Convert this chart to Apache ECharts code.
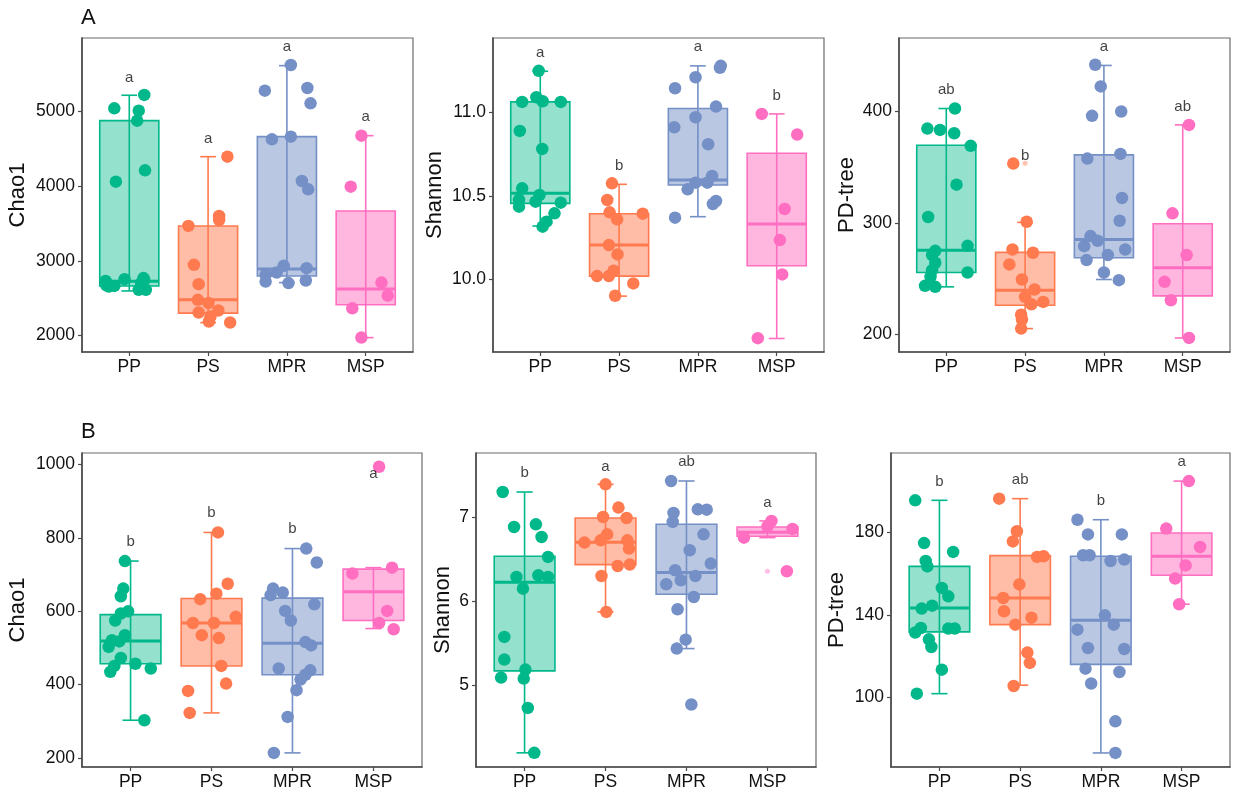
<!DOCTYPE html>
<html>
<head>
<meta charset="utf-8">
<script src="https://cdn.jsdelivr.net/npm/echarts@6.0.0/dist/echarts.min.js"></script>
<style>
html, body { margin: 0; background: #fff; }
#chart { width: 1240px; height: 795px; }
</style>
</head>
<body>
<div id="chart"></div>
<script>
var groups = ['PP', 'PS', 'MPR', 'MSP'];
var colors = ['#00B88A', '#FF7A4F', '#7490C6', '#FF6EC0'];
var fills = ['rgba(0,184,138,0.42)', 'rgba(255,122,79,0.5)', 'rgba(116,144,198,0.5)', 'rgba(255,110,192,0.5)'];
var font = 'Liberation Sans, Arial, sans-serif';

// box stats per group: [lower whisker, Q1, median, Q3, upper whisker]
// points per group: [jitter offset from group centre, value]

// ---- A / Chao1 ----
var chaoA_box = [[2595, 2662, 2725, 4879, 5220], [2170, 2298, 2476, 3467, 4396], [2707, 2795, 2890, 4665, 5617], [1969, 2409, 2620, 3668, 4678]];
var chaoA_PP = [[-0.19, 5045], [0.19, 5224], [0.12, 5013], [0.10, 4879], [-0.17, 4061], [0.20, 4213], [-0.30, 2730], [-0.26, 2654], [-0.06, 2753], [0.18, 2767], [0.12, 2610], [0.21, 2610], [-0.19, 2662], [0.15, 2700], [-0.29, 2670], [0.19, 2740]];
var chaoA_PS = [[0.245, 4396], [0.14, 3601], [0.14, 3547], [-0.25, 3467], [-0.18, 2945], [-0.12, 2686], [-0.13, 2476], [0.005, 2432], [0.13, 2333], [-0.12, 2306], [0.03, 2252], [0.01, 2185], [0.28, 2172]];
var chaoA_MPR = [[0.05, 5626], [-0.28, 5282], [0.26, 5317], [0.30, 5112], [-0.19, 4629], [0.05, 4665], [0.19, 4070], [0.27, 3958], [-0.04, 2932], [0.25, 2901], [-0.27, 2811], [-0.13, 2842], [-0.27, 2721], [0.02, 2700], [0.24, 2735]];
var chaoA_MSP = [[-0.055, 4678], [-0.19, 3994], [0.2, 2707], [0.28, 2532], [-0.17, 2362], [-0.055, 1969]];
var chaoA_letters = ['a', 'a', 'a', 'a'];
var chaoA_letterY = [5460, 4638, 5863, 4924];
var chaoA_ticks = [2000, 3000, 4000, 5000];

// ---- A / Shannon ----
var shanA_box = [[10.32, 10.456, 10.516, 11.064, 11.248], [9.9, 10.02, 10.206, 10.394, 10.57], [10.376, 10.566, 10.596, 11.024, 11.28], [9.646, 10.082, 10.332, 10.756, 10.992]];
var shanA_PP = [[-0.02, 11.25], [-0.23, 11.064], [-0.05, 11.092], [0.03, 11.068], [0.26, 11.064], [-0.26, 10.89], [0.025, 10.782], [-0.23, 10.546], [-0.01, 10.506], [-0.27, 10.476], [-0.06, 10.466], [-0.27, 10.436], [0.26, 10.46], [0.18, 10.396], [0.08, 10.346], [0.03, 10.316]];
var shanA_PS = [[-0.09, 10.576], [-0.15, 10.476], [-0.12, 10.402], [-0.025, 10.36], [0.30, 10.394], [-0.13, 10.206], [-0.02, 10.15], [-0.28, 10.02], [-0.13, 10.02], [-0.07, 10.052], [0.18, 9.976], [-0.05, 9.902]];
var shanA_MPR = [[0.29, 11.28], [0.28, 11.268], [-0.03, 11.212], [-0.29, 11.146], [0.23, 11.036], [-0.03, 10.972], [-0.30, 10.912], [0.13, 10.81], [0.18, 10.62], [0.12, 10.58], [-0.03, 10.58], [-0.13, 10.54], [0.23, 10.47], [0.19, 10.452], [-0.29, 10.37]];
var shanA_MSP = [[-0.19, 10.992], [0.26, 10.868], [0.10, 10.422], [0.04, 10.236], [0.07, 10.03], [-0.24, 9.648]];
var shanA_letters = ['a', 'b', 'a', 'b'];
var shanA_letterY = [11.36, 10.682, 11.392, 11.102];
var shanA_ticks = [10.0, 10.5, 11.0];

// ---- A / PD-tree ----
var pdA_box = [[242.8, 255.7, 275.7, 369.8, 402.7], [205.4, 226.3, 239.8, 273.7, 300.6], [249.4, 268.9, 285.3, 361.1, 441.3], [197, 234.7, 259.9, 299.4, 388]];
var pdA_PP = [[0.11, 402.7], [-0.24, 384.7], [-0.08, 383.5], [0.10, 380.5], [0.31, 369.2], [0.13, 334.4], [-0.23, 305.4], [0.27, 279.6], [-0.14, 275.1], [-0.18, 271.3], [-0.14, 264.4], [0.27, 255.7], [-0.18, 257.8], [-0.20, 251.8], [-0.27, 243.7], [-0.14, 242.8]];
var pdA_PS = [[-0.15, 353.3], [0.02, 301.2], [-0.16, 276.3], [0.10, 273.4], [-0.20, 262.9], [-0.04, 249.4], [0.12, 240.4], [0, 233.8], [0.23, 229.3], [0.08, 227.2], [-0.05, 217.9], [-0.04, 213.5], [-0.05, 205.4]];
var pdA_MPR = [[-0.11, 441.9], [-0.04, 422.5], [-0.15, 396.1], [0.22, 400], [-0.21, 357.8], [0.21, 362], [0.23, 322.5], [0.20, 302.1], [-0.17, 288.3], [-0.08, 284.1], [-0.25, 279.3], [0.27, 276.3], [0.05, 271.3], [-0.22, 266.8], [0, 255.7], [0.19, 248.8]];
var pdA_MSP = [[0.08, 388], [-0.13, 308.7], [0.05, 271.3], [-0.23, 247.3], [-0.15, 230.8], [0.08, 197]];
var pdA_outliers = [[1, 353.6]];
var pdA_letters = ['ab', 'b', 'a', 'ab'];
var pdA_letterY = [419.5, 360, 457.8, 404.5];
var pdA_ticks = [200, 300, 400];

// ---- B / Chao1 ----
var chaoB_box = [[303, 457, 519, 591, 737], [323, 451, 568, 635, 815], [214, 427, 513, 636, 771], [553, 575, 653, 715, 719]];
var chaoB_PP = [[-0.07, 737], [-0.09, 662], [-0.12, 641], [-0.03, 600], [-0.12, 594], [-0.19, 575], [-0.07, 535], [-0.23, 521], [-0.14, 518], [-0.27, 503], [-0.12, 473], [0.06, 457], [-0.20, 451], [-0.25, 435], [0.25, 444], [0.17, 303]];
var chaoB_PS = [[0.08, 815], [0.20, 675], [-0.14, 633], [0.06, 648], [0.30, 585], [-0.23, 568], [0.03, 568], [-0.12, 535], [0.09, 527], [0.12, 451], [0.18, 403], [-0.29, 383], [-0.27, 323]];
var chaoB_MPR = [[0.17, 771], [0.30, 733], [-0.24, 662], [-0.12, 651], [-0.27, 644], [0.27, 619], [-0.09, 601], [-0.02, 575], [0.16, 516], [0.23, 507], [-0.17, 444], [0.22, 439], [0.16, 427], [0.10, 414], [0.05, 385], [-0.06, 312], [-0.23, 214]];
var chaoB_MSP = [[0.07, 994], [-0.26, 703], [0.23, 719], [0.17, 601], [0.07, 568], [0.25, 551]];
var chaoB_letters = ['b', 'b', 'b', 'a'];
var chaoB_letterY = [789, 868, 825, 975];
var chaoB_ticks = [200, 400, 600, 800, 1000];

// ---- B / Shannon ----
var shanB_box = [[4.202, 5.174, 6.225, 6.534, 7.296], [5.874, 6.435, 6.70, 6.988, 7.387], [5.439, 6.083, 6.34, 6.913, 7.427], [6.755, 6.771, 6.82, 6.881, 6.953]];
var shanB_PP = [[-0.27, 7.296], [-0.13, 6.881], [0.14, 6.913], [0.21, 6.763], [0.29, 6.526], [-0.10, 6.289], [0.17, 6.308], [0.29, 6.289], [-0.02, 6.15], [-0.25, 5.577], [-0.25, 5.308], [-0.29, 5.095], [0.01, 5.19], [-0.01, 5.083], [0.04, 4.735], [0.12, 4.202]];
var shanB_PS = [[0, 7.387], [0.16, 7.111], [-0.03, 7.0], [0.26, 6.988], [0.02, 6.794], [-0.26, 6.696], [-0.06, 6.723], [0.27, 6.723], [0.29, 6.625], [0.15, 6.419], [0.30, 6.435], [-0.05, 6.30], [0.01, 5.874]];
var shanB_MPR = [[-0.19, 7.427], [-0.16, 7.047], [-0.17, 6.941], [0.14, 7.091], [0.25, 7.087], [0.21, 6.794], [0.04, 6.605], [0.30, 6.447], [-0.14, 6.368], [-0.07, 6.249], [0.11, 6.30], [-0.25, 6.202], [0.09, 6.051], [-0.11, 5.905], [-0.01, 5.545], [-0.12, 5.439], [0.06, 4.775]];
var shanB_MSP = [[0.05, 6.953], [0, 6.889], [0.31, 6.858], [-0.29, 6.755], [0.24, 6.356]];
var shanB_outliers = [[3, 6.356]];
var shanB_letters = ['b', 'a', 'ab', 'a'];
var shanB_letterY = [7.522, 7.60, 7.652, 7.166];
var shanB_ticks = [5, 6, 7];

// ---- B / PD-tree ----
var pdB_box = [[101.9, 131.8, 143.4, 163.5, 195.5], [106.0, 135.3, 148.2, 168.7, 196.3], [73.2, 116.1, 137.4, 168.4, 186.1], [145.2, 159.2, 168.4, 179.7, 204.8]];
var pdB_PP = [[-0.30, 195.5], [-0.19, 174.8], [0.17, 170.5], [-0.17, 166.1], [-0.15, 163.5], [0.03, 153.1], [0.11, 149.0], [-0.09, 144.5], [-0.22, 143.1], [-0.23, 133.7], [-0.30, 131.5], [0.11, 133.4], [0.19, 133.4], [-0.13, 128.2], [-0.10, 124.5], [0.03, 113.5], [-0.28, 101.9]];
var pdB_PS = [[-0.26, 196.3], [-0.04, 180.5], [-0.09, 175.6], [0.21, 168.1], [0.29, 168.4], [-0.01, 154.8], [-0.21, 148.2], [-0.20, 141.8], [0.14, 138.7], [-0.06, 135.3], [0.09, 121.8], [0.12, 116.8], [-0.08, 105.6]];
var pdB_MPR = [[-0.29, 186.1], [-0.16, 179.0], [0.26, 179.0], [-0.22, 168.9], [-0.14, 168.9], [0.12, 166.1], [0.29, 166.8], [0.05, 139.8], [-0.29, 132.9], [0.16, 135.3], [-0.16, 124.0], [0.29, 123.5], [-0.19, 114.0], [0.23, 112.4], [-0.12, 106.8], [0.18, 88.5], [0.18, 73.2]];
var pdB_MSP = [[0.09, 204.8], [-0.19, 181.8], [0.23, 172.9], [0.05, 164.0], [-0.08, 157.6], [-0.03, 145.2]];
var pdB_letters = ['b', 'ab', 'b', 'a'];
var pdB_letterY = [204.4, 205.2, 195.2, 213.9];
var pdB_ticks = [100, 140, 180];

// panel layout
var panels = [
    { name: 'Chao1', box: chaoA_box, pts: [chaoA_PP, chaoA_PS, chaoA_MPR, chaoA_MSP], out: [], letters: chaoA_letters, letterY: chaoA_letterY, ticks: chaoA_ticks, dec: 0, yMin: 1776, yMax: 5988, grid: { left: 82, top: 38, width: 331, height: 314 }, nameGap: 53 },
    { name: 'Shannon', box: shanA_box, pts: [shanA_PP, shanA_PS, shanA_MPR, shanA_MSP], out: [], letters: shanA_letters, letterY: shanA_letterY, ticks: shanA_ticks, dec: 1, yMin: 9.565, yMax: 11.447, grid: { left: 493, top: 38, width: 331, height: 314 }, nameGap: 47 },
    { name: 'PD-tree', box: pdA_box, pts: [pdA_PP, pdA_PS, pdA_MPR, pdA_MSP], out: pdA_outliers, letters: pdA_letters, letterY: pdA_letterY, ticks: pdA_ticks, dec: 0, yMin: 184.4, yMax: 465.9, grid: { left: 899, top: 38, width: 331, height: 314 }, nameGap: 41 },
    { name: 'Chao1', box: chaoB_box, pts: [chaoB_PP, chaoB_PS, chaoB_MPR, chaoB_MSP], out: [], letters: chaoB_letters, letterY: chaoB_letterY, ticks: chaoB_ticks, dec: 0, yMin: 175.5, yMax: 1031.6, grid: { left: 82, top: 453, width: 340, height: 314 }, nameGap: 53 },
    { name: 'Shannon', box: shanB_box, pts: [shanB_PP, shanB_PS, shanB_MPR, shanB_MSP], out: shanB_outliers, letters: shanB_letters, letterY: shanB_letterY, ticks: shanB_ticks, dec: 0, yMin: 4.034, yMax: 7.759, grid: { left: 476, top: 453, width: 340, height: 314 }, nameGap: 22 },
    { name: 'PD-tree', box: pdB_box, pts: [pdB_PP, pdB_PS, pdB_MPR, pdB_MSP], out: [], letters: pdB_letters, letterY: pdB_letterY, ticks: pdB_ticks, dec: 0, yMin: 66.4, yMax: 218.4, grid: { left: 891, top: 453, width: 339, height: 314 }, nameGap: 43 }
];

// draws whisker + caps + box + median for one group
function renderBox(params, api) {
    var x = api.value(0);
    var g = api.value(6);
    var lo = api.coord([x, api.value(1)]);
    var q1 = api.coord([x, api.value(2)]);
    var md = api.coord([x, api.value(3)]);
    var q3 = api.coord([x, api.value(4)]);
    var hi = api.coord([x, api.value(5)]);
    var half = api.size([0.375, 0])[0];
    var cap = api.size([0.1, 0])[0];
    var c = colors[g];
    var ls = { stroke: c, lineWidth: 1.6 };
    return {
        type: 'group',
        children: [
            { type: 'rect', shape: { x: q3[0] - half, y: q3[1], width: half * 2, height: q1[1] - q3[1] }, style: { fill: fills[g], stroke: c, lineWidth: 1.6 } },
            { type: 'line', shape: { x1: lo[0], y1: lo[1], x2: hi[0], y2: hi[1] }, style: ls },
            { type: 'line', shape: { x1: lo[0] - cap, y1: lo[1], x2: lo[0] + cap, y2: lo[1] }, style: ls },
            { type: 'line', shape: { x1: hi[0] - cap, y1: hi[1], x2: hi[0] + cap, y2: hi[1] }, style: ls },
            { type: 'line', shape: { x1: md[0] - half, y1: md[1], x2: md[0] + half, y2: md[1] }, style: { stroke: c, lineWidth: 3 } }
        ]
    };
}

var grids = [], xAxes = [], yAxes = [], series = [];

panels.forEach(function (p, i) {
    grids.push({ left: p.grid.left, top: p.grid.top, width: p.grid.width, height: p.grid.height, show: true, borderColor: '#6b6b6b', borderWidth: 1.2, containLabel: false });
    xAxes.push({
        type: 'value', gridIndex: i, min: 0.4, max: 4.6,
        axisLine: { show: true, onZero: false, lineStyle: { color: '#4a4a4a', width: 1.6 } },
        axisTick: { show: true, customValues: [1, 2, 3, 4], length: 4, lineStyle: { color: '#4a4a4a', width: 1.2 } },
        axisLabel: { customValues: [1, 2, 3, 4], formatter: function (v) { return groups[Math.round(v) - 1]; }, fontSize: 17.5, color: '#111', margin: 6, fontFamily: font },
        splitLine: { show: false }
    });
    yAxes.push({
        type: 'value', gridIndex: i, min: p.yMin, max: p.yMax,
        name: p.name, nameLocation: 'middle', nameRotate: 90, nameGap: p.nameGap,
        nameTextStyle: { fontSize: 22, color: '#111', fontFamily: font },
        axisLine: { show: true, onZero: false, lineStyle: { color: '#4a4a4a', width: 1.6 } },
        axisTick: { show: true, customValues: p.ticks, length: 4, lineStyle: { color: '#4a4a4a', width: 1.2 } },
        axisLabel: { customValues: p.ticks, formatter: function (v) { return v.toFixed(p.dec); }, fontSize: 17.5, color: '#111', margin: 7, fontFamily: font },
        splitLine: { show: false }
    });

    series.push({
        type: 'custom', xAxisIndex: i, yAxisIndex: i, z: 2, silent: true,
        renderItem: renderBox,
        data: p.box.map(function (b, g) { return [g + 1, b[0], b[1], b[2], b[3], b[4], g]; })
    });

    p.out.forEach(function (o) {
        series.push({
            type: 'scatter', xAxisIndex: i, yAxisIndex: i, z: 3, silent: true,
            symbolSize: 5, itemStyle: { color: colors[o[0]], opacity: 0.45 },
            data: [[o[0] + 1, o[1]]]
        });
    });

    p.pts.forEach(function (arr, g) {
        series.push({
            type: 'scatter', xAxisIndex: i, yAxisIndex: i, z: 4, silent: true,
            symbolSize: 12.5, itemStyle: { color: colors[g], opacity: 1 },
            data: arr.map(function (d) { return [g + 1 + d[0], d[1]]; })
        });
    });

    series.push({
        type: 'scatter', xAxisIndex: i, yAxisIndex: i, z: 5, silent: true,
        symbolSize: 0,
        label: { show: true, position: 'inside', formatter: '{b}', fontSize: 15, color: '#111', fontFamily: font },
        data: p.letters.map(function (t, k) { return { name: t, value: [k + 1, p.letterY[k]] }; })
    });
});

var chart = echarts.init(document.getElementById('chart'));
chart.setOption({
    animation: false,
    backgroundColor: '#fff',
    title: [
        { text: 'A', left: 81, top: 7, padding: 0, textStyle: { fontSize: 22, fontWeight: 'normal', color: '#111', fontFamily: font } },
        { text: 'B', left: 81, top: 421, padding: 0, textStyle: { fontSize: 22, fontWeight: 'normal', color: '#111', fontFamily: font } }
    ],
    grid: grids,
    xAxis: xAxes,
    yAxis: yAxes,
    series: series
});
</script>
</body>
</html>
